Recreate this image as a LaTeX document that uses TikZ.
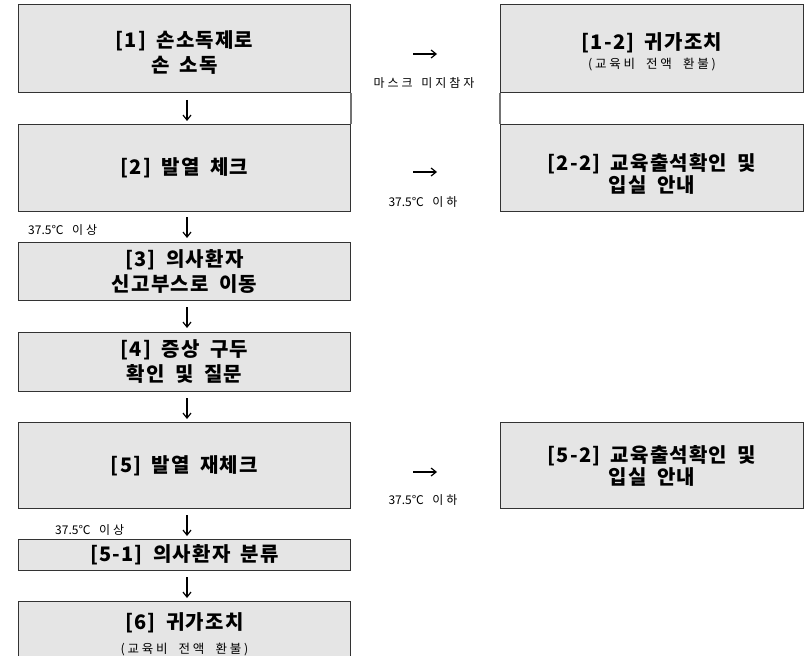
\documentclass[tikz,border=0pt]{standalone}
\usepackage{fontspec}
\setmainfont{Noto Sans CJK KR}
\newfontfamily\titlefont{Noto Sans CJK KR}[LetterSpace=6,WordSpace=1.8]
\newfontfamily\subfont{Noto Sans CJK KR}[LetterSpace=22,WordSpace=2]
\newfontfamily\labelfont{Noto Sans CJK KR}[LetterSpace=25,WordSpace=1.5]
\newfontfamily\numfont{Noto Sans CJK KR}
\newcommand\subtxt[1]{{\subfont\mdseries\fontsize{12.5}{14}\selectfont #1}}
\newcommand\num[1]{{\numfont #1}}
\usetikzlibrary{arrows.meta}
\tikzset{
  box/.style={draw=black!80, line width=0.9pt, fill=gray!20, anchor=north west,
    inner sep=0pt, align=center, font=\titlefont\bfseries\fontsize{20}{25}\selectfont},
  lbox/.style={box, minimum width=332pt},
  rbox/.style={box, minimum width=303pt},
  lab/.style={font=\labelfont\fontsize{12}{14}\selectfont, inner sep=0pt},
  flow/.style={line width=1.2pt, -{Straight Barb[length=5pt,width=8pt]}},
  joint/.style={draw=black!55, line width=1.6pt}
}
\begin{document}
\begin{tikzpicture}[x=1pt,y=-1pt]
\clip (0,0) rectangle (810,655);
\fill[white] (0,0) rectangle (810,655);
% left column
\node[lbox, minimum height=88pt] (n1) at (18,4) {\rule{0pt}{26pt}[1] 손소독제로\\손 소독};
\node[lbox, minimum height=87pt] (n2) at (18,124) {[2] 발열 체크};
\node[lbox, minimum height=58pt] (n3) at (18,242) {[3] 의사환자\\신고부스로 이동};
\node[lbox, minimum height=59pt] (n4) at (18,332) {[4] 증상 구두\\확인 및 질문};
\node[lbox, minimum height=86pt] (n5) at (18,422) {[5] 발열 재체크};
\node[lbox, minimum height=31pt] (n51) at (18,539) {[5-1] 의사환자 분류};
\node[lbox, minimum height=66pt] (n6) at (18,601) {[6] 귀가조치\\[-1pt]\subtxt{(교육비 전액 환불)}};
% right column
\node[rbox, minimum height=88pt] (n12) at (500,4) {\rule{0pt}{24pt}[1-2] 귀가조치\\[-6pt]\subtxt{(교육비 전액 환불)}};
\node[rbox, minimum height=87pt] (n22) at (500,124) {\rule{0pt}{28pt}[2-2] 교육출석확인 및\\[-3pt]입실 안내};
\node[rbox, minimum height=86pt] (n52) at (500,422) {[5-2] 교육출석확인 및\\[-3pt]입실 안내};
% joints between table cells
\draw[joint] (n1.south east) -- (n2.north east);
\draw[joint] (n12.south west) -- (n22.north west);
% down arrows
\coordinate (d1a) at (187,100); \coordinate (d1b) at (187,121);
\coordinate (d2a) at (187,217); \coordinate (d2b) at (187,238);
\coordinate (d3a) at (187,307); \coordinate (d3b) at (187,328);
\coordinate (d4a) at (187,398); \coordinate (d4b) at (187,419);
\coordinate (d5a) at (187,515); \coordinate (d5b) at (187,536);
\coordinate (d6a) at (187,577); \coordinate (d6b) at (187,598);
\draw[flow] (d1a) -- (d1b);
\draw[flow] (d2a) -- (d2b);
\draw[flow] (d3a) -- (d3b);
\draw[flow] (d4a) -- (d4b);
\draw[flow] (d5a) -- (d5b);
\draw[flow] (d6a) -- (d6b);
% right arrows
\coordinate (r1a) at (413,54); \coordinate (r1b) at (437,54);
\coordinate (r2a) at (413,172); \coordinate (r2b) at (437,172);
\coordinate (r3a) at (413,472); \coordinate (r3b) at (437,472);
\draw[flow] (r1a) -- (r1b);
\draw[flow] (r2a) -- (r2b);
\draw[flow] (r3a) -- (r3b);
% labels
\node[lab] (l1) at (424,83) {마스크 미지참자};
\node[lab] (l2) at (423,202) {\num{37.5℃} 이하};
\node[lab] (l3) at (423,500) {\num{37.5℃} 이하};
\node[lab, anchor=west] (l4) at (28,230) {\num{37.5℃} 이상};
\node[lab, anchor=west] (l5) at (55,530) {\num{37.5℃} 이상};
\end{tikzpicture}
\end{document}
